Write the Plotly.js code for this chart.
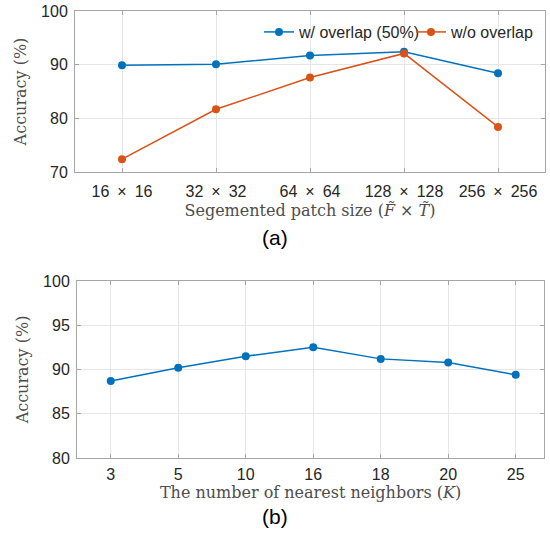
<!DOCTYPE html>
<html>
<head>
<meta charset="utf-8">
<script src="https://cdn.plot.ly/plotly-3.0.1.min.js"></script>
<style>html,body{margin:0;padding:0;background:#fff;}#chart{width:550px;height:541px;}</style>
</head>
<body>
<div id="chart"></div>
<script>
// (a) Segmented patch size
const patchSizes = ["16\u2002×\u200216", "32\u2002×\u200232", "64\u2002×\u200264", "128\u2002×\u2002128", "256\u2002×\u2002256"];
const accOverlap = [89.9, 90.1, 91.7, 92.4, 88.4];
const accNoOverlap = [72.4, 81.7, 87.6, 92.1, 78.4];
// (b) Number of nearest neighbors
const neighbors = ["3", "5", "10", "16", "18", "20", "25"];
const accNeighbors = [88.7, 90.2, 91.5, 92.5, 91.2, 90.8, 89.4];

const blue = "#0072BD", orange = "#D95319";
const tickFont = {family: "Liberation Sans, Arial, sans-serif", size: 16, color: "#262626"};
const titleFont = {family: "DejaVu Serif, serif", size: 16, color: "#4d4d4d"};
const legendFont = {family: "Liberation Sans, Arial, sans-serif", size: 16, color: "#262626"};
const axisCommon = {
  showline: true, mirror: "ticks", linecolor: "#a6a6a6", linewidth: 1,
  ticks: "inside", ticklen: 4, tickcolor: "#a6a6a6",
  showgrid: true, gridcolor: "#e6e6e6", gridwidth: 1,
  zeroline: false, tickfont: tickFont, fixedrange: true
};

const traces = [
  {x: patchSizes, y: accOverlap, name: "w/ overlap (50%)", type: "scatter", mode: "lines+markers",
   line: {color: blue, width: 1.5}, marker: {color: blue, size: 8}, xaxis: "x", yaxis: "y", legend: "legend"},
  {x: patchSizes, y: accNoOverlap, name: "w/o overlap", type: "scatter", mode: "lines+markers",
   line: {color: orange, width: 1.5}, marker: {color: orange, size: 8}, xaxis: "x", yaxis: "y", legend: "legend2"},
  {x: neighbors, y: accNeighbors, name: "K", type: "scatter", mode: "lines+markers", showlegend: false,
   line: {color: blue, width: 1.5}, marker: {color: blue, size: 8}, xaxis: "x2", yaxis: "y2"}
];

const legendCommon = {orientation: "h", xanchor: "left", y: 0.953, yanchor: "middle",
  bgcolor: "rgba(0,0,0,0)", font: legendFont, itemwidth: 30, tracegroupgap: 0};

const layout = {
  width: 550, height: 541,
  margin: {l: 75, r: 5, t: 11, b: 83},
  paper_bgcolor: "#fff", plot_bgcolor: "#fff",
  showlegend: true,
  legend: Object.assign({}, legendCommon, {x: 0.3915}),
  legend2: Object.assign({}, legendCommon, {x: 0.7149}),
  xaxis: Object.assign({}, axisCommon, {domain: [0, 1], anchor: "y", type: "category", range: [-0.5, 4.5],
    ticklabelstandoff: 5,
    title: {text: "Segemented patch size (<i>F̃</i> × <i>T̃</i>)", font: titleFont, standoff: 5}}),
  yaxis: Object.assign({}, axisCommon, {domain: [0.6398, 1], anchor: "x", range: [70, 100], dtick: 10,
    ticklabelstandoff: 3,
    title: {text: "Accuracy (%)", font: titleFont, standoff: 10}}),
  xaxis2: Object.assign({}, axisCommon, {domain: [0.0043, 0.998], anchor: "y2", type: "category", range: [-0.5, 6.42],
    ticklabelstandoff: 2,
    title: {text: "The number of nearest neighbors (<i>K</i>)", font: titleFont, standoff: 0}}),
  yaxis2: Object.assign({}, axisCommon, {domain: [0, 0.396], anchor: "x2", range: [80, 100], dtick: 5,
    ticklabelstandoff: 3,
    title: {text: "Accuracy (%)", font: titleFont, standoff: 10}}),
  annotations: [
    {text: "(a)", xref: "paper", yref: "paper", x: 0.426, y: 0.494, xanchor: "center", yanchor: "middle",
     showarrow: false, font: {family: "Liberation Sans, Arial, sans-serif", size: 21, color: "#000"}},
    {text: "(b)", xref: "paper", yref: "paper", x: 0.426, y: -0.13, xanchor: "center", yanchor: "middle",
     showarrow: false, font: {family: "Liberation Sans, Arial, sans-serif", size: 21, color: "#000"}}
  ]
};

Plotly.newPlot("chart", traces, layout, {displayModeBar: false, staticPlot: true});
</script>
</body>
</html>
